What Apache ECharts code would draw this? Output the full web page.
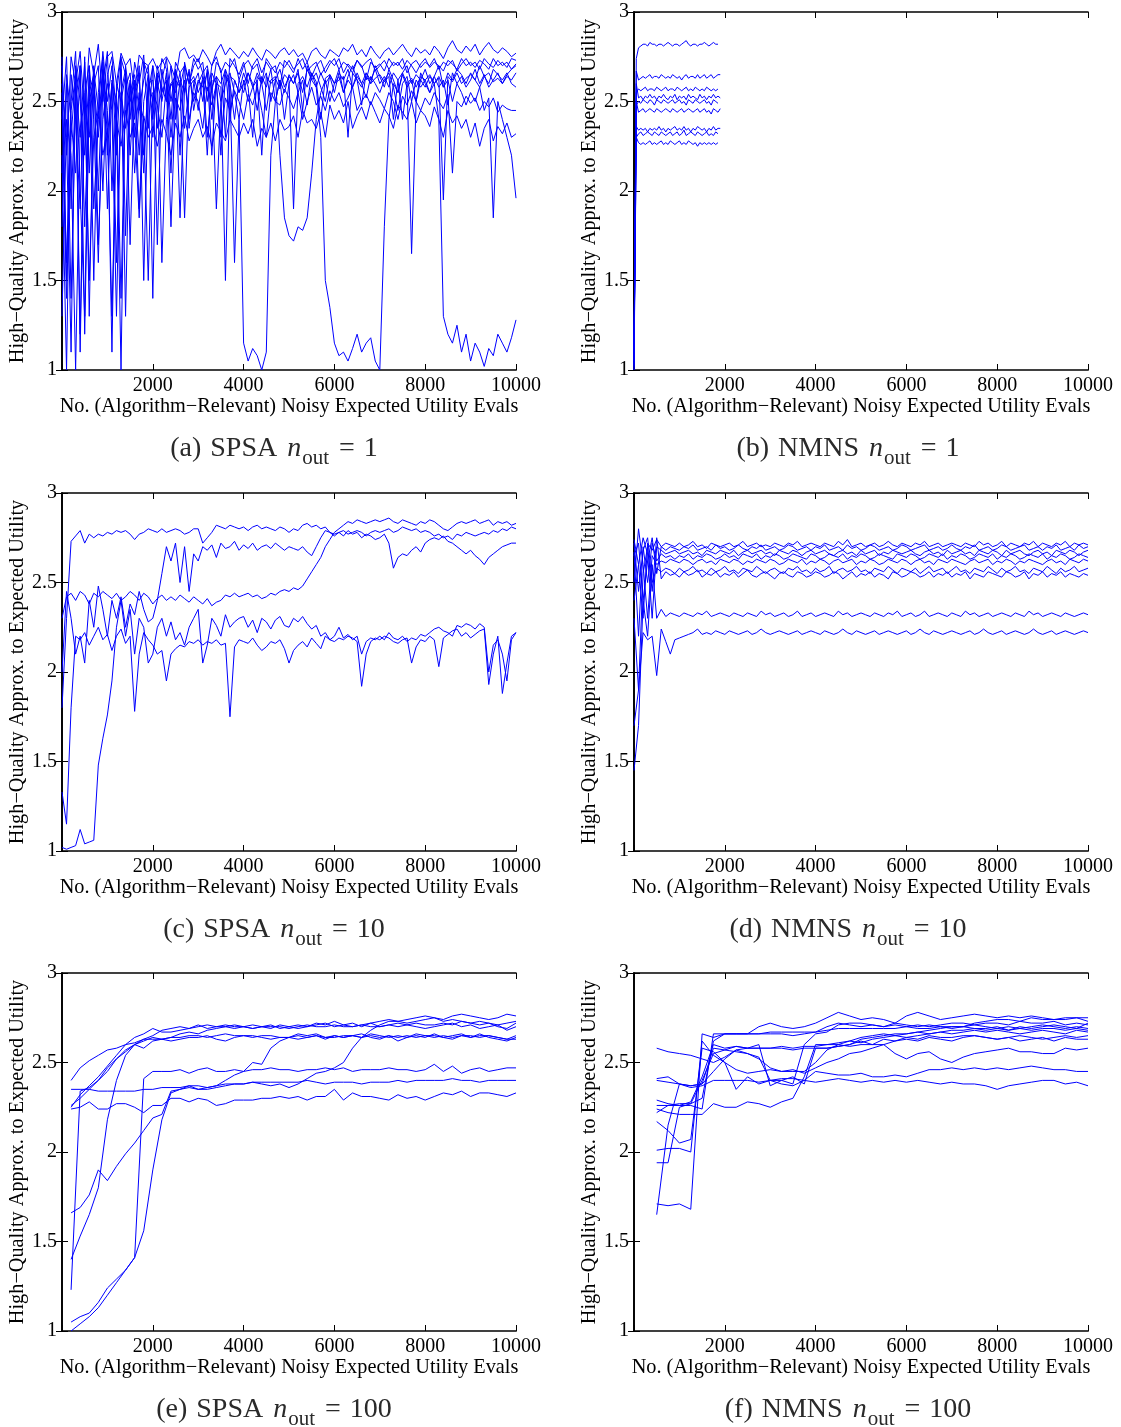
<!DOCTYPE html>
<html><head><meta charset="utf-8">
<script src="https://cdn.jsdelivr.net/npm/echarts@6/dist/echarts.min.js"></script>
<style>html,body{margin:0;padding:0;background:#fff}#c{width:1121px;height:1427px}</style>
</head><body><div id="c"></div>
<script>
// ---------- tick labels / texts ----------
const X_TICKS = [2000, 4000, 6000, 8000, 10000];
const Y_TICKS = [1, 1.5, 2, 2.5, 3];
const X_NAME = 'No. (Algorithm\u2212Relevant) Noisy Expected Utility Evals';
const Y_NAME = 'High\u2212Quality Approx. to Expected Utility';
const CAPTIONS = [['(a)','SPSA','1'],['(b)','NMNS','1'],['(c)','SPSA','10'],['(d)','NMNS','10'],['(e)','SPSA','100'],['(f)','NMNS','100']];

// ---------- (a) SPSA n_out = 1 : x = 0..10000 step 100 ----------
const A1=[2.70,2.20,2.75,2.60,2.78,2.40,2.80,2.65,2.82,2.50, 2.75,2.78,2.60,2.77,2.70,2.74,2.55,2.76,2.72,2.70, 2.74,2.68,2.72,2.75,2.70,2.62,2.78,2.80,2.74,2.76, 2.72,2.79,2.75,2.70,2.78,2.82,2.76,2.80,2.77,2.74, 2.78,2.75,2.80,2.76,2.73,2.79,2.77,2.74,2.78,2.80, 2.76,2.79,2.75,2.77,2.72,2.78,2.80,2.76,2.74,2.79, 2.77,2.75,2.80,2.78,2.82,2.76,2.79,2.75,2.81,2.77, 2.74,2.78,2.80,2.76,2.79,2.82,2.78,2.75,2.80,2.77, 2.79,2.76,2.81,2.78,2.74,2.80,2.84,2.79,2.77,2.81, 2.78,2.82,2.76,2.80,2.83,2.79,2.77,2.80,2.78,2.75, 2.77];
const A2=[2.40,2.75,1.90,2.60,2.30,2.72,2.10,2.68,2.45,2.78, 2.50,2.70,2.20,2.74,2.65,2.40,2.72,2.60,2.76,2.35, 2.70,2.55,2.74,2.68,2.40,2.72,2.66,2.70,2.60,2.74, 2.68,2.72,2.50,2.70,2.75,2.66,2.72,2.69,2.74,2.62, 2.70,2.73,2.68,2.71,2.60,2.74,2.70,2.66,2.72,2.69, 2.73,2.68,2.71,2.74,2.67,2.70,2.72,2.65,2.69,2.73, 2.70,2.74,2.66,2.71,2.68,2.73,2.70,2.62,2.72,2.69, 2.71,2.67,2.74,2.70,2.72,2.68,2.73,2.70,2.66,2.71, 2.74,2.69,2.72,2.70,2.67,2.73,2.71,2.68,2.74,2.70, 2.72,2.69,2.73,2.71,2.68,2.74,2.70,2.72,2.69,2.74, 2.73];
const A3=[2.10,2.60,1.40,2.50,2.70,1.80,2.55,2.65,2.00,2.72, 2.30,2.60,1.60,2.55,2.68,2.20,2.62,1.90,2.50,2.65, 1.40,2.60,2.50,2.66,2.30,2.62,2.58,1.85,2.60,2.64, 2.55,2.62,2.20,2.66,2.60,2.58,1.50,2.64,2.62,2.55, 2.60,2.66,2.58,2.62,2.20,2.64,2.60,2.63,2.57,2.65, 2.62,1.90,2.60,2.64,2.58,2.66,2.61,2.40,2.63,2.65, 2.60,2.62,2.64,2.30,2.66,2.62,2.58,2.64,2.60,2.63, 2.65,2.61,2.64,2.40,2.62,2.66,2.60,2.63,2.58,2.64, 2.62,2.65,2.60,2.63,1.95,2.64,2.61,2.66,2.60,2.63, 2.65,2.62,2.58,2.64,2.66,2.61,2.63,2.60,2.65,2.68, 2.70];
const A4=[2.55,1.60,2.45,2.65,1.20,2.50,2.30,2.70,1.70,2.40, 2.60,2.45,1.30,2.55,2.35,2.62,2.10,2.50,2.40,1.50, 2.55,2.48,2.30,2.60,1.80,2.52,2.45,2.62,2.40,2.55, 2.50,2.35,2.58,2.48,2.60,2.30,2.52,2.45,2.56,2.50, 2.40,2.54,2.48,2.58,2.45,2.30,2.55,2.50,2.48,2.57, 2.52,2.46,2.55,2.40,2.50,2.58,2.48,2.53,2.45,2.56, 2.50,2.55,2.47,2.52,2.58,2.45,2.50,2.54,2.48,2.55, 2.51,2.46,2.55,2.50,2.40,2.53,2.48,2.56,2.50,2.45, 2.52,2.48,2.55,2.50,2.46,2.54,2.10,2.50,2.47,2.53, 2.49,2.52,2.45,2.50,2.47,2.52,2.44,2.48,2.46,2.45, 2.45];
const A5=[1.30,2.40,2.20,1.00,2.35,2.50,1.50,2.30,2.45,2.20, 2.35,1.30,2.40,2.25,2.45,2.30,2.38,1.85,2.42,2.30, 2.36,2.25,2.40,2.32,2.20,2.38,2.30,2.42,2.28,2.35, 2.40,2.30,2.36,2.25,2.38,2.33,2.28,2.40,2.35,2.30, 2.38,2.32,2.40,2.25,2.35,2.30,2.38,2.28,2.40,2.34, 2.36,2.42,2.30,2.45,2.38,2.40,2.35,2.44,2.30,2.48, 2.40,2.45,2.38,2.50,2.35,2.42,2.47,2.40,2.50,2.44, 2.38,2.46,2.42,2.35,2.48,2.44,2.40,2.50,2.38,2.45, 2.42,2.36,2.47,2.40,2.30,2.45,2.38,2.42,2.35,2.40, 2.30,2.38,2.25,2.35,2.40,2.28,2.36,2.32,2.38,2.30, 2.32];
const A6=[2.20,1.00,2.65,2.40,1.90,2.75,1.30,2.60,2.70,2.00, 2.65,2.75,2.40,1.00,2.70,2.50,2.60,2.20,2.72,2.65, 2.40,2.70,2.55,2.62,2.10,2.68,2.58,2.70,2.35,2.60, 2.66,2.50,2.68,2.40,2.60,2.20,2.65,2.58,1.60,2.40, 1.15,1.05,1.12,1.08,1.00,1.10,2.20,2.50,2.62,2.55, 2.65,2.60,2.68,2.45,2.70,2.62,2.66,2.58,2.50,2.65, 2.60,2.68,2.55,2.64,2.70,2.62,2.48,2.66,2.60,2.70, 2.64,2.58,2.68,2.62,2.55,2.66,2.70,2.60,2.65,2.62, 2.68,2.60,2.64,2.70,2.58,2.66,2.62,2.68,2.65,2.60, 2.66,2.62,2.70,2.64,2.60,2.68,2.65,2.62,2.66,2.60, 2.58];
const A7=[2.60,2.30,1.10,2.70,2.50,2.20,2.65,1.50,2.55,2.75, 1.90,2.60,2.40,2.68,1.30,2.55,2.65,2.45,2.62,2.70, 2.30,2.66,2.58,2.50,2.70,2.40,2.62,2.55,2.68,2.45, 2.60,2.66,2.30,2.58,2.64,2.50,2.68,2.60,2.40,2.62, 2.55,2.66,2.60,2.45,2.64,2.58,2.68,2.50,2.62,2.40, 2.60,2.65,2.55,2.62,2.48,2.66,2.58,2.30,1.50,1.35, 1.15,1.08,1.10,1.05,1.12,1.20,1.10,1.15,1.18,1.05, 1.00,1.80,2.40,2.60,2.55,2.65,2.58,2.62,2.50,2.66, 2.60,2.55,2.64,2.58,2.62,2.48,2.66,2.60,2.64,2.58, 2.62,2.68,2.60,2.65,2.58,2.62,2.66,2.60,2.64,2.62, 2.66];
const A8=[1.80,2.65,2.40,2.10,2.70,1.20,2.50,2.62,2.30,2.68, 2.45,1.10,2.60,2.50,2.65,1.70,2.55,2.66,2.20,2.60, 2.62,2.35,2.68,2.50,2.60,2.64,1.85,2.58,2.66,2.50, 2.62,2.58,2.66,2.20,2.64,2.60,2.68,2.40,2.62,2.55, 2.66,2.58,2.30,2.64,2.60,2.66,2.50,2.62,2.68,2.58, 2.64,2.60,2.66,2.55,2.68,2.62,2.58,2.66,2.60,2.64, 2.55,2.66,2.62,2.68,2.58,2.64,2.60,2.66,2.62,2.68, 2.60,2.64,2.58,2.66,2.62,2.40,2.60,1.65,2.50,2.62, 2.58,2.64,2.60,2.40,1.30,1.20,1.15,1.25,1.10,1.20, 1.05,1.15,1.10,1.02,1.12,1.08,1.20,1.15,1.10,1.18, 1.28];
const A9=[2.50,1.40,2.30,2.65,1.10,2.55,2.70,1.90,2.40,2.65, 2.20,2.62,2.50,1.40,2.58,2.66,2.30,2.55,2.10,2.62, 2.50,2.65,1.60,2.40,2.60,2.55,2.66,2.35,2.58,2.62, 2.45,2.64,2.56,2.62,1.90,2.50,2.60,2.66,2.55,2.40, 2.62,2.50,2.58,2.66,2.60,2.45,2.62,2.64,2.20,1.85, 1.75,1.72,1.80,1.78,1.85,2.10,2.40,2.55,2.62,2.50, 2.60,2.64,2.55,2.62,2.58,2.66,2.60,2.52,2.64,2.60, 2.55,2.62,2.66,2.58,2.45,2.60,2.64,2.50,2.62,2.58, 2.62,2.55,2.60,2.64,2.58,2.62,2.50,2.60,2.55,2.48, 2.55,2.50,2.58,2.45,2.52,1.85,2.50,2.40,2.30,2.20, 1.96];
const A10=[2.75,1.50,2.50,2.78,2.00,1.30,2.70,2.40,1.60,2.60, 2.78,2.00,2.55,2.75,1.75,2.60,2.40,2.70,1.50,2.55, 2.70,1.70,2.62,2.74,2.50,2.68,2.20,2.72,2.60,2.70, 2.74,2.66,2.70,2.55,2.72,2.68,2.30,2.74,2.70,2.65, 2.72,2.60,2.70,2.74,2.66,2.72,2.68,2.70,2.58,2.73, 2.70,2.66,2.74,2.68,2.72,2.64,2.70,2.73,2.66,2.71, 2.74,2.68,2.72,2.70,2.66,2.73,2.69,2.72,2.74,2.67, 2.70,2.73,2.68,2.72,2.70,2.74,2.66,2.71,2.73,2.69, 2.72,2.70,2.74,2.68,2.72,2.70,2.73,2.67,2.71,2.74, 2.70,2.72,2.68,2.74,2.71,2.69,2.73,2.70,2.72,2.68, 2.71];

// ---------- (b) NMNS n_out = 1 : x = 0.. step 50 ----------
const B1=[1.00,2.74,2.80,2.81,2.82,2.82,2.81,2.83,2.82,2.82, 2.81,2.82,2.82,2.81,2.82,2.83,2.82,2.81,2.82,2.82, 2.81,2.82,2.83,2.84,2.82,2.81,2.82,2.82,2.81,2.82, 2.82,2.83,2.82,2.81,2.82,2.83,2.82,2.82];
const B2=[1.05,2.67,2.62,2.63,2.64,2.63,2.64,2.65,2.63,2.64, 2.64,2.63,2.65,2.64,2.63,2.64,2.63,2.65,2.64,2.63, 2.64,2.62,2.64,2.65,2.63,2.64,2.64,2.63,2.65,2.63, 2.64,2.65,2.63,2.64,2.65,2.63,2.64,2.65,2.65];
const B3=[1.10,2.55,2.57,2.56,2.57,2.58,2.56,2.57,2.57,2.56, 2.58,2.57,2.56,2.57,2.58,2.56,2.57,2.57,2.56,2.58, 2.57,2.56,2.57,2.58,2.56,2.57,2.56,2.58,2.57,2.56, 2.57,2.56,2.58,2.57,2.56,2.57,2.56,2.57];
const B4=[1.02,2.60,2.52,2.53,2.51,2.53,2.52,2.54,2.52,2.53, 2.51,2.53,2.52,2.54,2.52,2.51,2.53,2.52,2.54,2.51, 2.53,2.52,2.53,2.51,2.54,2.52,2.53,2.52,2.51,2.54, 2.52,2.53,2.51,2.53,2.52,2.54,2.52,2.53,2.52];
const B5=[1.15,2.48,2.50,2.49,2.51,2.50,2.49,2.51,2.50,2.48, 2.51,2.50,2.49,2.51,2.50,2.49,2.50,2.51,2.49,2.50, 2.51,2.49,2.50,2.48,2.51,2.50,2.49,2.51,2.50,2.49, 2.50,2.51,2.49,2.50,2.48,2.51,2.50,2.49];
const B6=[1.08,2.50,2.44,2.45,2.46,2.44,2.45,2.46,2.45,2.44, 2.46,2.45,2.44,2.45,2.46,2.45,2.44,2.46,2.45,2.44, 2.45,2.46,2.44,2.45,2.46,2.45,2.44,2.45,2.46,2.44, 2.45,2.46,2.44,2.45,2.43,2.46,2.45,2.44,2.46];
const B7=[1.03,2.36,2.34,2.35,2.34,2.35,2.33,2.35,2.34,2.35, 2.34,2.36,2.34,2.35,2.33,2.35,2.34,2.35,2.36,2.34, 2.35,2.34,2.36,2.34,2.35,2.33,2.35,2.34,2.36,2.35, 2.34,2.35,2.33,2.35,2.34,2.36,2.34,2.35,2.35];
const B8=[1.12,2.30,2.32,2.33,2.31,2.32,2.33,2.32,2.31,2.33, 2.32,2.31,2.33,2.32,2.31,2.32,2.33,2.31,2.32,2.33, 2.31,2.32,2.34,2.31,2.32,2.33,2.32,2.31,2.33,2.32, 2.31,2.32,2.33,2.31,2.32,2.31,2.33,2.32];
const B9=[1.00,2.30,2.27,2.26,2.27,2.26,2.27,2.28,2.26,2.27, 2.26,2.27,2.28,2.26,2.27,2.26,2.28,2.27,2.26,2.27, 2.28,2.26,2.27,2.26,2.28,2.27,2.26,2.27,2.25,2.27, 2.26,2.27,2.26,2.27,2.26,2.27,2.26,2.27];

// ---------- (c) SPSA n_out = 10 : x = 0..10000 step 100 ----------
const C1=[1.80,2.30,2.73,2.76,2.79,2.72,2.77,2.75,2.77,2.76, 2.78,2.77,2.79,2.78,2.79,2.77,2.74,2.77,2.78,2.80, 2.79,2.78,2.80,2.78,2.79,2.80,2.79,2.77,2.78,2.80, 2.80,2.72,2.75,2.78,2.82,2.81,2.80,2.82,2.81,2.80, 2.81,2.79,2.81,2.82,2.80,2.81,2.80,2.79,2.81,2.80, 2.78,2.80,2.79,2.82,2.83,2.81,2.82,2.80,2.81,2.78, 2.76,2.78,2.79,2.77,2.78,2.79,2.78,2.76,2.78,2.79, 2.78,2.79,2.80,2.78,2.79,2.81,2.80,2.79,2.80,2.78, 2.79,2.78,2.76,2.77,2.75,2.76,2.74,2.77,2.76,2.78, 2.77,2.76,2.77,2.78,2.77,2.79,2.78,2.80,2.79,2.81, 2.80];
const C2=[2.00,2.45,2.30,2.10,2.20,2.05,2.40,2.25,2.48,2.35, 2.20,2.40,2.30,2.42,2.25,2.38,2.32,2.45,2.35,2.28, 2.30,2.40,2.55,2.70,2.62,2.72,2.50,2.70,2.45,2.66, 2.62,2.70,2.68,2.71,2.64,2.72,2.69,2.70,2.73,2.68, 2.71,2.69,2.72,2.68,2.70,2.71,2.69,2.72,2.70,2.68, 2.70,2.69,2.68,2.70,2.67,2.65,2.70,2.75,2.79,2.78, 2.77,2.78,2.76,2.79,2.77,2.78,2.75,2.77,2.76,2.74, 2.75,2.77,2.72,2.58,2.64,2.66,2.65,2.68,2.70,2.67, 2.72,2.74,2.75,2.74,2.76,2.73,2.72,2.70,2.68,2.66, 2.68,2.65,2.63,2.60,2.64,2.66,2.68,2.70,2.71,2.72, 2.72];
const C3=[2.30,2.42,2.44,2.40,2.45,2.43,2.38,2.44,2.42,2.45, 2.43,2.41,2.44,2.40,2.42,2.45,2.43,2.40,2.44,2.42, 2.38,2.41,2.43,2.40,2.42,2.40,2.43,2.41,2.39,2.42, 2.40,2.38,2.41,2.37,2.39,2.40,2.43,2.42,2.44,2.42, 2.43,2.44,2.42,2.43,2.41,2.42,2.44,2.43,2.45,2.46, 2.45,2.47,2.46,2.48,2.52,2.56,2.60,2.64,2.70,2.74, 2.78,2.80,2.82,2.84,2.83,2.85,2.84,2.83,2.84,2.85, 2.84,2.85,2.86,2.84,2.83,2.85,2.84,2.83,2.82,2.84, 2.83,2.85,2.84,2.82,2.80,2.79,2.81,2.83,2.84,2.83, 2.84,2.85,2.83,2.84,2.85,2.82,2.84,2.83,2.84,2.82, 2.83];
const C4=[1.33,1.15,1.80,2.20,2.18,2.22,2.15,2.20,2.25,2.18, 2.21,2.12,2.20,2.24,2.16,2.20,1.78,2.10,2.22,2.18, 2.15,2.10,2.12,1.95,2.10,2.13,2.15,2.14,2.17,2.16, 2.18,2.15,2.17,2.16,2.18,2.15,2.16,1.75,2.14,2.18, 2.17,2.16,2.19,2.15,2.12,2.14,2.17,2.16,2.18,2.13, 2.05,2.12,2.15,2.17,2.14,2.19,2.16,2.13,2.20,2.18, 2.17,2.19,2.18,2.20,2.19,2.17,1.92,2.10,2.17,2.19, 2.18,2.20,2.19,2.17,2.16,2.18,2.19,2.05,2.14,2.18, 2.17,2.20,2.18,2.03,2.19,2.21,2.23,2.24,2.20,2.22, 2.19,2.21,2.23,2.24,1.93,2.10,2.20,1.88,2.05,2.20, 2.22];
const C5=[1.02,1.01,1.02,1.03,1.12,1.04,1.05,1.06,1.48,1.63, 1.76,1.95,2.25,2.40,2.20,2.35,2.10,2.30,2.25,2.05, 2.10,2.25,2.30,2.20,2.28,2.18,2.22,2.15,2.25,2.30, 2.35,2.05,2.15,2.30,2.26,2.20,2.32,2.25,2.28,2.30, 2.31,2.25,2.29,2.22,2.30,2.28,2.24,2.29,2.31,2.26, 2.25,2.30,2.28,2.31,2.27,2.24,2.26,2.20,2.22,2.18, 2.20,2.25,2.19,2.21,2.18,2.20,2.10,2.17,2.19,2.18, 2.20,2.18,2.22,2.19,2.18,2.20,2.17,2.19,2.18,2.21, 2.20,2.22,2.24,2.25,2.23,2.22,2.20,2.26,2.25,2.27, 2.26,2.24,2.27,2.25,2.00,2.15,2.18,2.10,1.95,2.18, 2.22];

// ---------- (d) NMNS n_out = 10 : x = 0..10000 step 100 ----------
const D1=[2.74,2.60,2.30,2.72,2.68,2.74,2.70,2.72,2.71,2.70, 2.72,2.70,2.71,2.73,2.70,2.71,2.69,2.72,2.71,2.70, 2.71,2.72,2.70,2.71,2.73,2.70,2.71,2.72,2.70,2.71, 2.70,2.72,2.71,2.70,2.72,2.71,2.73,2.70,2.71,2.72, 2.71,2.70,2.72,2.71,2.70,2.73,2.71,2.74,2.70,2.71, 2.72,2.70,2.71,2.72,2.70,2.71,2.73,2.71,2.70,2.72, 2.71,2.70,2.72,2.71,2.73,2.70,2.71,2.72,2.70,2.71, 2.72,2.71,2.70,2.72,2.71,2.70,2.73,2.71,2.72,2.70, 2.71,2.73,2.70,2.72,2.71,2.70,2.72,2.71,2.73,2.70, 2.72,2.71,2.70,2.72,2.71,2.73,2.70,2.72,2.71,2.72, 2.71];
const D2=[2.65,2.72,2.40,2.62,2.75,2.55,2.70,2.68,2.70,2.69, 2.68,2.70,2.69,2.71,2.68,2.69,2.70,2.68,2.71,2.69, 2.70,2.68,2.69,2.71,2.69,2.68,2.70,2.69,2.71,2.68, 2.69,2.70,2.68,2.69,2.71,2.70,2.68,2.69,2.70,2.68, 2.70,2.69,2.71,2.68,2.69,2.70,2.68,2.71,2.69,2.70, 2.68,2.69,2.71,2.70,2.68,2.69,2.70,2.68,2.69,2.71, 2.70,2.68,2.69,2.70,2.71,2.68,2.69,2.70,2.68,2.69, 2.71,2.69,2.68,2.70,2.69,2.71,2.68,2.69,2.70,2.68, 2.69,2.71,2.70,2.68,2.69,2.70,2.71,2.68,2.69,2.70, 2.68,2.70,2.69,2.71,2.68,2.69,2.70,2.68,2.71,2.69, 2.70];
const D3=[2.40,2.60,2.75,2.66,2.30,2.70,2.68,2.66,2.67,2.68, 2.66,2.67,2.68,2.66,2.67,2.65,2.68,2.67,2.66,2.68, 2.67,2.66,2.68,2.65,2.67,2.68,2.66,2.67,2.68,2.66, 2.67,2.65,2.68,2.67,2.66,2.68,2.67,2.65,2.67,2.68, 2.66,2.67,2.68,2.66,2.65,2.67,2.68,2.66,2.67,2.65, 2.68,2.66,2.67,2.68,2.65,2.67,2.66,2.68,2.67,2.66, 2.67,2.68,2.66,2.65,2.67,2.68,2.66,2.67,2.65,2.68, 2.66,2.67,2.68,2.66,2.67,2.65,2.68,2.67,2.66,2.68, 2.67,2.65,2.68,2.66,2.67,2.68,2.66,2.65,2.67,2.68, 2.66,2.67,2.65,2.68,2.67,2.66,2.68,2.67,2.65,2.67, 2.68];
const D4=[2.67,2.20,2.70,2.50,2.72,2.62,2.66,2.64,2.65,2.63, 2.65,2.64,2.66,2.63,2.65,2.64,2.66,2.65,2.63,2.64, 2.66,2.64,2.65,2.63,2.66,2.65,2.64,2.66,2.63,2.65, 2.64,2.66,2.65,2.63,2.64,2.66,2.65,2.64,2.63,2.66, 2.65,2.63,2.64,2.66,2.65,2.64,2.66,2.63,2.65,2.64, 2.66,2.65,2.63,2.64,2.66,2.65,2.64,2.63,2.66,2.65, 2.64,2.66,2.65,2.63,2.64,2.66,2.65,2.64,2.66,2.63, 2.65,2.64,2.66,2.65,2.63,2.64,2.66,2.65,2.64,2.66, 2.63,2.65,2.64,2.66,2.65,2.63,2.64,2.66,2.65,2.64, 2.66,2.63,2.65,2.64,2.66,2.65,2.63,2.64,2.66,2.65, 2.64];
const D5=[2.50,2.80,2.60,2.30,2.65,2.60,2.62,2.61,2.63,2.62, 2.61,2.63,2.62,2.60,2.62,2.63,2.61,2.62,2.60,2.63, 2.62,2.61,2.63,2.62,2.60,2.62,2.61,2.63,2.62,2.61, 2.63,2.62,2.60,2.61,2.63,2.62,2.61,2.63,2.60,2.62, 2.61,2.63,2.62,2.60,2.62,2.63,2.61,2.62,2.63,2.60, 2.62,2.61,2.63,2.62,2.60,2.61,2.63,2.62,2.61,2.63, 2.62,2.60,2.62,2.63,2.61,2.62,2.60,2.63,2.62,2.61, 2.63,2.62,2.61,2.60,2.62,2.63,2.61,2.62,2.63,2.60, 2.62,2.61,2.63,2.62,2.60,2.62,2.61,2.63,2.62,2.61, 2.60,2.62,2.63,2.61,2.62,2.60,2.63,2.62,2.61,2.63, 2.62];
const D6=[2.72,2.45,2.68,2.75,2.50,2.58,2.56,2.58,2.57,2.55, 2.58,2.56,2.57,2.59,2.56,2.57,2.55,2.58,2.56,2.57, 2.59,2.56,2.57,2.55,2.58,2.57,2.56,2.59,2.57,2.55, 2.57,2.58,2.56,2.55,2.58,2.57,2.59,2.56,2.57,2.55, 2.58,2.56,2.57,2.59,2.55,2.57,2.58,2.56,2.57,2.59, 2.56,2.57,2.55,2.58,2.57,2.56,2.59,2.57,2.55,2.58, 2.57,2.56,2.58,2.55,2.57,2.59,2.56,2.57,2.58,2.55, 2.57,2.59,2.56,2.57,2.55,2.58,2.57,2.56,2.59,2.57, 2.55,2.58,2.56,2.57,2.59,2.56,2.57,2.55,2.58,2.57, 2.56,2.59,2.57,2.55,2.58,2.56,2.57,2.59,2.56,2.57, 2.58];
const D7=[2.30,1.90,2.55,2.70,2.45,2.75,2.52,2.56,2.54,2.55, 2.53,2.56,2.54,2.55,2.57,2.53,2.55,2.54,2.56,2.53, 2.55,2.54,2.56,2.53,2.55,2.57,2.54,2.53,2.55,2.56, 2.54,2.52,2.55,2.56,2.54,2.53,2.56,2.55,2.53,2.54, 2.56,2.55,2.53,2.54,2.56,2.55,2.52,2.54,2.56,2.53, 2.55,2.54,2.56,2.53,2.55,2.54,2.52,2.56,2.55,2.53, 2.54,2.56,2.55,2.53,2.54,2.56,2.53,2.55,2.54,2.56, 2.53,2.55,2.54,2.56,2.52,2.55,2.54,2.53,2.56,2.55, 2.54,2.53,2.56,2.55,2.53,2.54,2.56,2.52,2.55,2.54, 2.56,2.53,2.55,2.54,2.56,2.53,2.55,2.54,2.53,2.55, 2.54];
const D8=[1.45,1.70,2.40,2.20,2.60,2.30,2.35,2.31,2.33,2.32, 2.31,2.33,2.32,2.31,2.33,2.32,2.34,2.31,2.32,2.33, 2.32,2.31,2.33,2.32,2.31,2.33,2.32,2.31,2.34,2.32, 2.33,2.31,2.32,2.33,2.31,2.32,2.34,2.31,2.32,2.33, 2.31,2.32,2.33,2.32,2.31,2.34,2.32,2.33,2.31,2.32, 2.33,2.32,2.31,2.33,2.32,2.31,2.33,2.32,2.34,2.31, 2.32,2.33,2.31,2.32,2.34,2.31,2.32,2.33,2.32,2.31, 2.33,2.32,2.31,2.34,2.32,2.33,2.31,2.32,2.33,2.31, 2.32,2.33,2.32,2.31,2.33,2.32,2.31,2.34,2.32,2.33, 2.31,2.32,2.33,2.32,2.31,2.33,2.32,2.31,2.32,2.33, 2.32];
const D9=[1.70,1.90,2.22,2.18,2.20,1.98,2.24,2.17,2.10,2.18, 2.19,2.20,2.21,2.22,2.24,2.21,2.22,2.21,2.23,2.22, 2.21,2.23,2.22,2.21,2.22,2.23,2.21,2.22,2.24,2.22, 2.21,2.22,2.23,2.22,2.21,2.22,2.23,2.21,2.22,2.23, 2.22,2.21,2.23,2.22,2.21,2.22,2.24,2.22,2.21,2.23, 2.22,2.21,2.22,2.23,2.21,2.22,2.23,2.22,2.21,2.22, 2.23,2.21,2.22,2.24,2.22,2.21,2.23,2.22,2.21,2.22, 2.23,2.22,2.21,2.22,2.23,2.21,2.22,2.24,2.22,2.21, 2.22,2.23,2.21,2.22,2.23,2.22,2.21,2.22,2.24,2.22, 2.21,2.22,2.23,2.21,2.22,2.23,2.22,2.21,2.22,2.23, 2.22];

// ---------- (e) SPSA n_out = 100 : x = 200..10000 step 200 ----------
const E1=[2.40,2.47,2.51,2.54,2.57,2.58,2.60,2.61,2.63,2.63, 2.63,2.64,2.64,2.65,2.65,2.64,2.65,2.66,2.65,2.65, 2.64,2.65,2.65,2.64,2.64,2.65,2.64,2.65,2.64,2.64, 2.65,2.65,2.64,2.65,2.64,2.65,2.64,2.65,2.64,2.65, 2.64,2.65,2.64,2.65,2.65,2.64,2.65,2.64,2.63,2.63];
const E2=[2.25,2.32,2.37,2.42,2.48,2.54,2.60,2.64,2.66,2.69, 2.67,2.67,2.68,2.69,2.71,2.69,2.70,2.70,2.71,2.70, 2.69,2.70,2.70,2.70,2.69,2.70,2.71,2.70,2.70,2.71, 2.70,2.70,2.71,2.70,2.70,2.71,2.72,2.71,2.72,2.71, 2.71,2.72,2.71,2.73,2.72,2.73,2.72,2.71,2.72,2.73];
const E3=[2.26,2.30,2.35,2.40,2.45,2.52,2.56,2.60,2.58,2.62, 2.63,2.62,2.63,2.64,2.64,2.65,2.63,2.62,2.64,2.65, 2.65,2.64,2.63,2.64,2.64,2.63,2.64,2.65,2.63,2.65, 2.64,2.65,2.66,2.64,2.63,2.65,2.62,2.64,2.65,2.64, 2.66,2.64,2.63,2.65,2.64,2.66,2.64,2.63,2.62,2.64];
const E4=[2.35,2.35,2.35,2.34,2.34,2.34,2.34,2.34,2.35,2.35, 2.36,2.36,2.36,2.37,2.37,2.36,2.37,2.38,2.38,2.38, 2.39,2.39,2.39,2.39,2.39,2.39,2.40,2.39,2.38,2.39, 2.39,2.39,2.38,2.39,2.39,2.39,2.40,2.39,2.40,2.40, 2.40,2.40,2.41,2.40,2.40,2.39,2.40,2.40,2.40,2.40];
const E5=[2.24,2.25,2.28,2.24,2.24,2.27,2.27,2.25,2.22,2.26, 2.26,2.30,2.30,2.28,2.30,2.29,2.26,2.27,2.29,2.29, 2.29,2.30,2.30,2.31,2.30,2.31,2.29,2.31,2.31,2.35, 2.29,2.33,2.31,2.31,2.30,2.29,2.32,2.30,2.31,2.29, 2.31,2.33,2.32,2.34,2.31,2.33,2.33,2.32,2.31,2.33];
const E6=[1.66,1.69,1.76,1.90,1.84,1.92,1.99,2.05,2.12,2.19, 2.21,2.34,2.35,2.36,2.35,2.36,2.37,2.40,2.43,2.45, 2.50,2.49,2.58,2.62,2.64,2.66,2.65,2.66,2.64,2.65, 2.64,2.65,2.64,2.66,2.65,2.64,2.65,2.64,2.66,2.65, 2.65,2.64,2.65,2.66,2.64,2.65,2.65,2.64,2.63,2.65];
const E7=[1.23,2.34,2.36,2.40,2.47,2.52,2.57,2.60,2.63,2.65, 2.68,2.69,2.70,2.69,2.70,2.71,2.70,2.71,2.70,2.70, 2.71,2.70,2.69,2.71,2.70,2.71,2.70,2.72,2.71,2.73, 2.71,2.72,2.70,2.72,2.73,2.74,2.73,2.74,2.75,2.76, 2.75,2.74,2.76,2.77,2.76,2.75,2.74,2.75,2.77,2.76];
const E8=[1.05,1.08,1.10,1.16,1.24,1.29,1.34,1.41,1.56,1.90, 2.18,2.33,2.35,2.37,2.35,2.35,2.36,2.37,2.38,2.38, 2.39,2.38,2.37,2.38,2.36,2.38,2.41,2.44,2.45,2.47, 2.50,2.58,2.64,2.68,2.71,2.73,2.73,2.72,2.73,2.74, 2.75,2.73,2.74,2.73,2.72,2.71,2.72,2.70,2.69,2.72];
const E9=[1.40,1.53,1.65,1.80,2.18,2.40,2.54,2.60,2.62,2.64, 2.63,2.64,2.66,2.67,2.66,2.68,2.69,2.70,2.69,2.70, 2.69,2.70,2.71,2.69,2.70,2.69,2.70,2.71,2.72,2.70, 2.71,2.70,2.71,2.72,2.70,2.71,2.70,2.71,2.70,2.69, 2.70,2.71,2.72,2.70,2.71,2.69,2.70,2.71,2.68,2.70];
const E10=[1.00,1.04,1.08,1.13,1.20,1.27,1.34,1.41,2.41,2.45, 2.45,2.45,2.46,2.44,2.46,2.47,2.45,2.45,2.46,2.45, 2.46,2.46,2.47,2.46,2.46,2.45,2.46,2.46,2.47,2.46, 2.47,2.45,2.46,2.46,2.46,2.47,2.46,2.46,2.45,2.46, 2.49,2.45,2.48,2.44,2.46,2.47,2.45,2.46,2.47,2.47];

// ---------- (f) NMNS n_out = 100 : x = 500..10000 step 250 ----------
const F1=[2.58,2.56,2.55,2.54,2.52,2.50,2.53,2.57,2.58,2.58, 2.58,2.58,2.57,2.58,2.58,2.58,2.59,2.60,2.63,2.64, 2.65,2.66,2.66,2.67,2.66,2.67,2.68,2.68,2.69,2.69, 2.70,2.68,2.70,2.69,2.70,2.71,2.70,2.69,2.72];
const F2=[2.41,2.42,2.38,2.37,2.38,2.45,2.52,2.57,2.55,2.53, 2.40,2.38,2.37,2.40,2.45,2.44,2.43,2.43,2.44,2.42, 2.42,2.43,2.42,2.44,2.46,2.46,2.47,2.46,2.47,2.46, 2.47,2.46,2.47,2.48,2.47,2.46,2.46,2.45,2.45];
const F3=[2.40,2.39,2.38,2.36,2.37,2.40,2.40,2.40,2.40,2.39, 2.40,2.41,2.41,2.40,2.39,2.40,2.41,2.40,2.39,2.40, 2.39,2.40,2.39,2.40,2.39,2.38,2.39,2.38,2.38,2.37, 2.35,2.37,2.38,2.39,2.40,2.40,2.38,2.39,2.37];
const F4=[2.29,2.27,2.26,2.28,2.42,2.60,2.58,2.59,2.58,2.60, 2.37,2.40,2.42,2.38,2.58,2.58,2.59,2.60,2.62,2.60, 2.60,2.55,2.52,2.55,2.56,2.52,2.50,2.53,2.55,2.56, 2.57,2.58,2.56,2.56,2.55,2.55,2.58,2.57,2.58];
const F5=[2.26,2.26,2.26,2.26,2.24,2.66,2.66,2.66,2.66,2.66, 2.67,2.67,2.67,2.67,2.67,2.68,2.69,2.69,2.69,2.69, 2.69,2.69,2.70,2.69,2.69,2.70,2.70,2.70,2.69,2.68, 2.69,2.68,2.69,2.68,2.69,2.69,2.68,2.69,2.68];
const F6=[2.24,2.22,2.21,2.21,2.21,2.27,2.25,2.25,2.28,2.27, 2.25,2.28,2.30,2.42,2.60,2.60,2.61,2.62,2.61,2.63, 2.64,2.65,2.64,2.63,2.65,2.64,2.64,2.65,2.65,2.64, 2.63,2.64,2.65,2.64,2.63,2.64,2.65,2.64,2.65];
const F7=[2.22,2.26,2.27,2.27,2.40,2.55,2.57,2.59,2.58,2.58, 2.58,2.59,2.58,2.59,2.59,2.60,2.60,2.59,2.60,2.60, 2.63,2.62,2.64,2.65,2.66,2.67,2.66,2.67,2.68,2.67, 2.68,2.67,2.66,2.67,2.68,2.67,2.66,2.68,2.67];
const F8=[2.17,2.12,2.05,2.07,2.58,2.56,2.50,2.35,2.42,2.38, 2.40,2.40,2.38,2.60,2.66,2.67,2.71,2.72,2.72,2.71, 2.70,2.71,2.70,2.71,2.70,2.71,2.72,2.72,2.71,2.72, 2.72,2.71,2.73,2.72,2.72,2.73,2.71,2.72,2.71];
const F9=[2.01,2.02,2.02,2.00,2.62,2.54,2.50,2.46,2.44,2.45, 2.46,2.45,2.45,2.45,2.50,2.57,2.60,2.62,2.64,2.65, 2.66,2.65,2.66,2.67,2.68,2.69,2.70,2.70,2.72,2.73, 2.74,2.74,2.73,2.75,2.74,2.74,2.75,2.75,2.75];
const F10=[1.94,1.94,2.25,2.27,2.30,2.62,2.66,2.66,2.66,2.70, 2.72,2.70,2.69,2.70,2.72,2.75,2.78,2.76,2.74,2.75, 2.74,2.72,2.76,2.78,2.76,2.74,2.75,2.76,2.77,2.76, 2.75,2.76,2.75,2.76,2.75,2.74,2.74,2.75,2.73];
const F11=[1.71,1.70,1.71,1.68,2.66,2.64,2.66,2.66,2.66,2.66, 2.66,2.66,2.65,2.66,2.67,2.70,2.72,2.71,2.70,2.71, 2.70,2.72,2.71,2.70,2.71,2.70,2.69,2.70,2.71,2.70, 2.69,2.70,2.69,2.70,2.71,2.70,2.69,2.70,2.69];
const F12=[1.65,2.15,2.38,2.37,2.38,2.58,2.57,2.56,2.55,2.52, 2.47,2.45,2.46,2.44,2.47,2.50,2.52,2.55,2.56,2.58, 2.60,2.62,2.63,2.62,2.64,2.63,2.62,2.64,2.65,2.64, 2.63,2.64,2.62,2.63,2.64,2.62,2.64,2.63,2.63];

// ---------- layout ----------
const FONT = '"Liberation Serif","Times New Roman",Times,serif';
const PLOT_W = 454, PLOT_H = 358;
const PANELS = [
  {left:62,  top:12,  x0:0,   step:100, lines:[A1,A2,A3,A4,A5,A6,A7,A8,A9,A10]},
  {left:634, top:12,  x0:0,   step:50,  lines:[B1,B2,B3,B4,B5,B6,B7,B8,B9]},
  {left:62,  top:493, x0:0,   step:100, lines:[C1,C2,C3,C4,C5]},
  {left:634, top:493, x0:0,   step:100, lines:[D1,D2,D3,D4,D5,D6,D7,D8,D9]},
  {left:62,  top:973, x0:200, step:200, lines:[E1,E2,E3,E4,E5,E6,E7,E8,E9,E10]},
  {left:634, top:973, x0:500, step:250, lines:[F1,F2,F3,F4,F5,F6,F7,F8,F9,F10,F11,F12]}
];
const CAP_X = [274, 848];
const CAP_Y = [447, 928, 1408];

const grid = [], xAxis = [], yAxis = [], series = [], graphic = [];
const frameLine = {show:true, lineStyle:{color:'#000', width:1.7}};
const tick = {show:true, inside:true, length:6, lineStyle:{color:'#000', width:1}};
const CAP_COLOR = '#2a2a2a';
PANELS.forEach((p, i) => {
  grid.push({left:p.left, top:p.top, width:PLOT_W, height:PLOT_H, containLabel:false});
  const xBase = {gridIndex:i, type:'value', min:0, max:10000, interval:2000, splitLine:{show:false}, axisLine:frameLine, axisTick:tick};
  const yBase = {gridIndex:i, type:'value', min:Y_TICKS[0], max:Y_TICKS[Y_TICKS.length-1], interval:0.5, splitLine:{show:false}, axisLine:frameLine, axisTick:tick};
  xAxis.push(Object.assign({}, xBase, {
    position:'bottom',
    axisLabel:{color:'#000', fontFamily:FONT, fontSize:20, margin:6,
      formatter: v => X_TICKS.indexOf(v) >= 0 ? String(v) : ''},
    name:X_NAME, nameLocation:'middle', nameGap:25,
    nameTextStyle:{color:'#000', fontFamily:FONT, fontSize:20.3}
  }));
  xAxis.push(Object.assign({}, xBase, {position:'top', axisLabel:{show:false}}));
  yAxis.push(Object.assign({}, yBase, {
    position:'left',
    axisLabel:{color:'#000', fontFamily:FONT, fontSize:20, margin:5},
    name:Y_NAME, nameLocation:'middle', nameGap:34, nameRotate:90,
    nameTextStyle:{color:'#000', fontFamily:FONT, fontSize:20.3}
  }));
  yAxis.push(Object.assign({}, yBase, {position:'right', axisLabel:{show:false}}));
  p.lines.forEach(ys => {
    series.push({
      type:'line', xAxisIndex:2*i, yAxisIndex:2*i,
      data: ys.map((y, k) => [p.x0 + k*p.step, y]),
      showSymbol:false, symbol:'none', silent:true, clip:true,
      lineStyle:{color:'#0000ff', width:1}, z:1
    });
  });
  const c = CAPTIONS[i];
  const base = {fontFamily:FONT, fontSize:28, fill:CAP_COLOR, lineHeight:32, verticalAlign:'bottom'};
  graphic.push({
    type:'text', x:CAP_X[i%2], y:CAP_Y[Math.floor(i/2)],
    style:{
      text:'{r|' + c[0] + '}{w|' + c[1] + '}{i|n}{s|out}{e|=}{r|' + c[2] + '}',
      align:'center', verticalAlign:'middle',
      rich:{
        r:base,
        w:Object.assign({}, base, {padding:[0,0,0,9]}),
        i:Object.assign({}, base, {fontStyle:'italic', padding:[0,0,0,10]}),
        s:{fontFamily:FONT, fontSize:21, fill:CAP_COLOR, lineHeight:20, verticalAlign:'bottom', padding:[0,0,-6,1]},
        e:Object.assign({}, base, {padding:[0,9,0,10]})
      }
    }
  });
});

const chart = echarts.init(document.getElementById('c'), null, {renderer:'canvas'});
chart.setOption({animation:false, backgroundColor:'#fff', grid, xAxis, yAxis, series, graphic});
</script>
</body></html>
